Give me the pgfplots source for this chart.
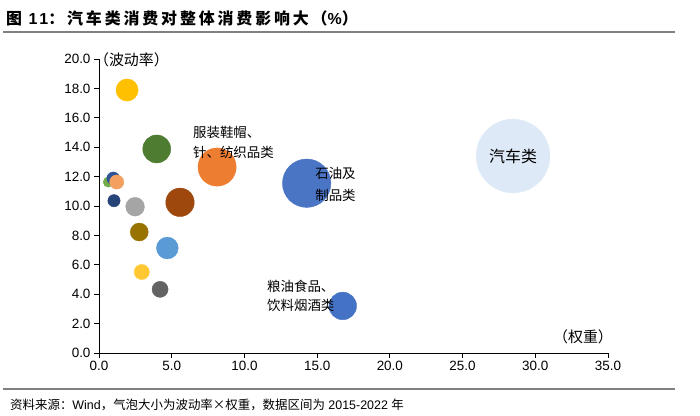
\documentclass[border=0pt]{standalone}
\usepackage{fontspec}
\usepackage{pgfplots}
\pgfplotsset{compat=1.18}
\usepackage{pgfplotstable}
\setmainfont{Liberation Sans}
\newfontfamily\cjk{Noto Sans CJK SC}
\newfontfamily\cjkt[LetterSpace=18]{Noto Sans CJK SC}
\newfontfamily\latt[LetterSpace=18]{Liberation Sans}
\definecolor{cA}{RGB}{255,192,0}
\definecolor{cB}{RGB}{78,124,48}
\definecolor{cC}{RGB}{237,125,49}
\definecolor{cD}{RGB}{74,116,196}
\definecolor{cE}{RGB}{221,233,246}
\definecolor{cF}{RGB}{158,72,14}
\definecolor{cG}{RGB}{112,173,71}
\definecolor{cH}{RGB}{46,84,150}
\definecolor{cI}{RGB}{244,160,96}
\definecolor{cJ}{RGB}{38,68,120}
\definecolor{cK}{RGB}{165,165,165}
\definecolor{cL}{RGB}{153,115,0}
\definecolor{cM}{RGB}{91,155,213}
\definecolor{cN}{RGB}{255,200,50}
\definecolor{cO}{RGB}{99,99,99}
\definecolor{cP}{RGB}{68,114,196}
\definecolor{rule}{RGB}{128,128,128}
\pgfplotsset{bub/.style={scatter, only marks, mark=*,
  scatter/use mapped color={draw=#1, fill=#1},
  visualization depends on={1.886*sqrt(\thisrow{x}*\thisrow{y}) \as \rr},
  scatter/@pre marker code/.append style={/tikz/mark size=\rr bp, /tikz/draw=#1, /tikz/fill=#1, /tikz/line width=0.1pt}}}
\begin{document}
\begin{tikzpicture}
\useasboundingbox (0,0) rectangle (700bp,416bp);
\draw[rule, line width=1.6bp] (3bp,384bp) -- (675bp,384bp);
\draw[rule, line width=1.6bp] (3bp,27bp) -- (675bp,27bp);
\node[anchor=west, inner sep=0pt] at (6bp,398bp) {\fontsize{16}{18}\selectfont\bfseries{\cjkt 图 }{\latt 11}{\cjkt ：汽车类消费对整体消费影响大（}{\latt\%}{\cjkt ）}};
\node[anchor=west, inner sep=0pt] at (10bp,11bp) {\fontsize{12.5}{14}\selectfont{\cjk 资料来源：}Wind{\cjk ，气泡大小为波动率×权重，数据区间为} 2015-2022 {\cjk 年}};
\begin{axis}[
  at={(99bp,63bp)}, anchor=south west,
  scale only axis, width=509bp, height=294bp,
  xmin=0, xmax=35, ymin=0, ymax=20,
  xtick={0,5,...,35}, ytick={0,2,...,20},
  axis x line*=bottom, axis y line*=left,
  axis line style={black, line width=0.9bp},
  tick style={black, line width=0.9bp},
  tick align=outside, major tick length=5bp,
  clip=false,
  /pgf/number format/assume math mode=true,
  tick label style={font=\fontsize{13.5}{15}\selectfont},
  xticklabel={\pgfmathprintnumber[fixed,fixed zerofill,precision=1]{\tick}},
  yticklabel={\pgfmathprintnumber[fixed,fixed zerofill,precision=1]{\tick}},
]
\addplot[bub=cA] table[row sep=\\] {x y\\ 1.93 17.89\\};
\addplot[bub=cB] table[row sep=\\] {x y\\ 3.97 13.88\\};
\addplot[bub=cC] table[row sep=\\] {x y\\ 8.12 12.65\\};
\addplot[bub=cD] table[row sep=\\] {x y\\ 14.28 11.55\\};
\addplot[bub=cE] table[row sep=\\] {x y\\ 28.47 13.40\\};
\addplot[bub=cF] table[row sep=\\] {x y\\ 5.57 10.25\\};
\addplot[bub=cG] table[row sep=\\] {x y\\ 0.64 11.63\\};
\addplot[bub=cH] table[row sep=\\] {x y\\ 0.98 11.88\\};
\addplot[bub=cI] table[row sep=\\] {x y\\ 1.22 11.63\\};
\addplot[bub=cJ] table[row sep=\\] {x y\\ 1.03 10.36\\};
\addplot[bub=cK] table[row sep=\\] {x y\\ 2.48 9.95\\};
\addplot[bub=cL] table[row sep=\\] {x y\\ 2.77 8.23\\};
\addplot[bub=cM] table[row sep=\\] {x y\\ 4.70 7.14\\};
\addplot[bub=cN] table[row sep=\\] {x y\\ 2.94 5.51\\};
\addplot[bub=cO] table[row sep=\\] {x y\\ 4.20 4.33\\};
\addplot[bub=cP] table[row sep=\\] {x y\\ 16.76 3.20\\};
\coordinate (L1) at (axis cs:-0.35,19.93);
\coordinate (L2) at (axis cs:35.35,1.09);
\coordinate (T1) at (axis cs:6.46,15.03);
\coordinate (T2) at (axis cs:6.46,13.67);
\coordinate (T3) at (axis cs:14.86,12.24);
\coordinate (T4) at (axis cs:14.86,10.75);
\coordinate (T5) at (axis cs:28.47,13.40);
\coordinate (T6) at (axis cs:11.55,4.56);
\coordinate (T7) at (axis cs:11.55,3.27);
\end{axis}
\begin{scope}[every node/.style={inner sep=0pt, font=\cjk\fontsize{13.5}{15}\selectfont}]
\node[anchor=west] at (L1) {\fontsize{15}{17}\selectfont（波动率）};
\node[anchor=east] at (L2) {\fontsize{15}{17}\selectfont（权重）};
\node[anchor=west] at (T1) {服装鞋帽、};
\node[anchor=west] at (T2) {针、纺织品类};
\node[anchor=west] at (T3) {石油及};
\node[anchor=west] at (T4) {制品类};
\node at (T5) {\fontsize{16}{18}\selectfont 汽车类};
\node[anchor=west] at (T6) {粮油食品、};
\node[anchor=west] at (T7) {饮料烟酒类};
\end{scope}
\end{tikzpicture}
\end{document}
